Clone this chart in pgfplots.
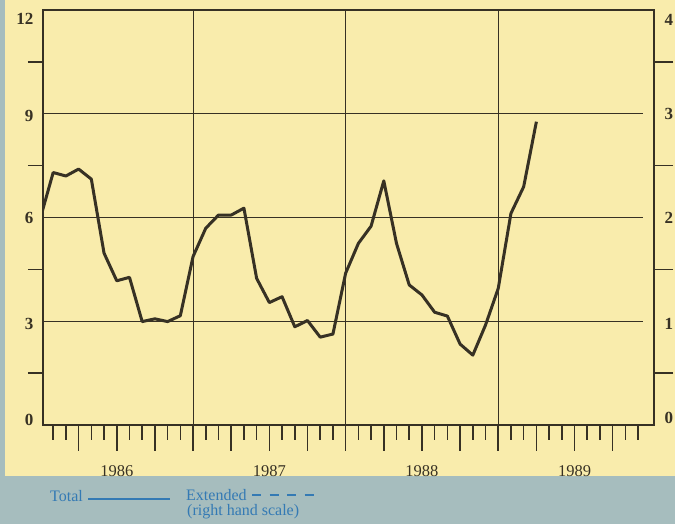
\documentclass[border=0pt]{standalone}
\usepackage{pgfplots}
\pgfplotsset{compat=1.18}
\usepackage{fontspec}
\setmainfont{Liberation Serif}
\definecolor{paper}{RGB}{249,236,172}
\definecolor{band}{RGB}{166,189,190}
\definecolor{ink}{RGB}{55,49,36}
\definecolor{legblue}{RGB}{52,122,180}
\begin{document}
\begin{tikzpicture}[x=1bp,y=1bp]
\fill[paper] (-43,-99) rectangle (632,425);
\fill[band] (-43,-99) rectangle (632,-51);
\fill[band] (-43,-99) rectangle (-38,425);
\begin{axis}[
  at={(0,0)}, anchor=south west,
  scale only axis, width=611bp, height=415bp,
  xmin=0.2, xmax=48.25, ymin=0, ymax=12,
  axis line style={ink, line width=1.3bp},
  tick style={ink, line width=1.6bp},
  tick align=outside,
  xtick pos=bottom, ytick pos=left,
  xtick={3,6,...,45},
  xticklabels={{},1986,{},{},{},1987,{},{},{},1988,{},{},{},1989,{}},
  minor xtick={1,...,47},
  ytick={0,3,6,9,12},
  yticklabels={\raisebox{-0.1bp}[0pt][0pt]{0},\raisebox{-8.6bp}[0pt][0pt]{3},\raisebox{-6.1bp}[0pt][0pt]{6},\raisebox{-7.6bp}[0pt][0pt]{9},\raisebox{-14.6bp}[0pt][0pt]{12}},
  minor ytick={1.5,4.5,7.5,10.5},
  major tick length=26bp,
  minor tick length=15bp,
  major y tick style={draw=none},
  xticklabel style={font=\fontsize{16.5bp}{18bp}\selectfont, text=ink, yshift=-11bp},
  yticklabel style={font=\fontsize{17bp}{18bp}\selectfont\bfseries, text=ink, xshift=20bp},
]
\draw[ink, line width=1bp] (axis cs:0.2,3) -- (axis cs:47.4,3);
\draw[ink, line width=1bp] (axis cs:0.2,6) -- (axis cs:47.4,6);
\draw[ink, line width=1bp] (axis cs:0.2,9) -- (axis cs:47.4,9);
\draw[ink, line width=1bp] (axis cs:12,0) -- (axis cs:12,12);
\draw[ink, line width=1bp] (axis cs:24,0) -- (axis cs:24,12);
\draw[ink, line width=1bp] (axis cs:36,0) -- (axis cs:36,12);
\addplot[ink, line width=3bp, line join=round] coordinates {
(0,5.99) (1,7.30) (2,7.20) (3,7.40) (4,7.11) (5,4.97) (6,4.17) (7,4.27)
(8,2.99) (9,3.07) (10,2.99) (11,3.16) (12,4.87) (13,5.69) (14,6.07) (15,6.07)
(16,6.27) (17,4.24) (18,3.54) (19,3.71) (20,2.84) (21,3.02) (22,2.54) (23,2.63)
(24,4.39) (25,5.25) (26,5.75) (27,7.06) (28,5.25) (29,4.05) (30,3.76) (31,3.26)
(32,3.15) (33,2.34) (34,2.02) (35,2.89) (36,3.95) (37,6.12) (38,6.89) (39,8.77)
};
\end{axis}
\begin{axis}[
  at={(0,0)}, anchor=south west,
  scale only axis, width=611bp, height=415bp,
  xmin=0.2, xmax=48.25, ymin=0, ymax=4,
  axis x line=none, axis y line*=right,
  axis line style={ink, line width=1.3bp},
  tick style={ink, line width=1.6bp},
  tick align=outside,
  ytick={0,1,2,3,4},
  yticklabels={\raisebox{1.4bp}[0pt][0pt]{0},\raisebox{-8.6bp}[0pt][0pt]{1},\raisebox{-6.1bp}[0pt][0pt]{2},\raisebox{-5.6bp}[0pt][0pt]{3},\raisebox{-15.6bp}[0pt][0pt]{4}},
  minor ytick={0.5,1.5,2.5,3.5},
  major tick length=0bp,
  minor tick length=19bp,
  major y tick style={draw=none},
  yticklabel style={font=\fontsize{17bp}{18bp}\selectfont\bfseries, text=ink, xshift=7bp},
]
\end{axis}
\node[anchor=base west, inner sep=0, text=legblue, font=\fontsize{16bp}{19bp}\selectfont] at (7,-77) {Total};
\draw[legblue, line width=2.5bp] (45,-74) -- (127,-74);
\node[anchor=base west, inner sep=0, text=legblue, font=\fontsize{16bp}{19bp}\selectfont] at (143,-76) {Extended};
\draw[legblue, line width=2.5bp, dash pattern=on 9bp off 8.5bp] (209,-70) -- (273,-70);
\node[anchor=base west, inner sep=0, text=legblue, font=\fontsize{16bp}{19bp}\selectfont] at (144,-91) {(right hand scale)};
\pgfresetboundingbox
\path[use as bounding box] (-43,-99) rectangle (632,425);
\end{tikzpicture}
\end{document}
